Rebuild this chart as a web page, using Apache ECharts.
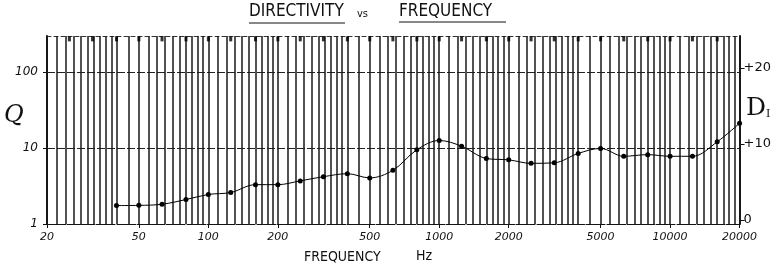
<!DOCTYPE html>
<html>
<head>
<meta charset="utf-8">
<script src="https://cdn.jsdelivr.net/npm/echarts@6/dist/echarts.min.js"></script>
<style>
  html, body { margin: 0; padding: 0; background: #fff; }
  #chart { width: 774px; height: 269px; }
</style>
</head>
<body>
<div id="chart"></div>
<script>
const freqs = [40, 50, 63, 80, 100, 125, 160, 200, 250, 315, 400, 500, 630, 800,
  1000, 1250, 1600, 2000, 2500, 3150, 4000, 5000, 6300, 8000, 10000, 12500, 16000, 20000]
const qValues = [1.75, 1.76, 1.82, 2.1, 2.45, 2.6, 3.3, 3.3, 3.7, 4.2, 4.6, 4.05, 5.1, 9.5,
  12.6, 10.6, 7.3, 7.0, 6.3, 6.4, 8.5, 9.9, 7.8, 8.2, 7.8, 7.8, 12.1, 21.3]

// small marks along the top of the paper
const bandMarks = [25, 31.5, 40, 50, 63, 80, 100, 125, 160, 200, 250, 315, 400, 500, 630, 800,
  1000, 1250, 1600, 2000, 2500, 3150, 4000, 5000, 6300, 8000, 10000, 12500, 16000]

const freqLabels = [20, 50, 100, 200, 500, 1000, 2000, 5000, 10000, 20000]
const qTicks = [1, 10, 100]
const diLabels = { 1: '0', 10: '+10', 100: '+20' }

// graph paper rulings: 2d..4d by 0.2d, 4d..10d by 0.5d, 10d..20d by d
const paperLines = (() => {
  const out = []
  ;[10, 100, 1000].forEach((d) => {
    for (let i = 0; i < 10; i++) out.push(+(2 * d + i * 0.2 * d).toFixed(3))
    for (let i = 0; i < 12; i++) out.push(4 * d + i * 0.5 * d)
    for (let i = 0; i < 10; i++) out.push(10 * d + i * d)
  })
  out.push(20000)
  return out
})()

const ink = '#111'
const hand = "'Liberation Sans Narrow', 'DejaVu Sans Condensed', 'DejaVu Sans', sans-serif"

const chart = echarts.init(document.getElementById('chart'), null, { renderer: 'canvas' })

const option = {
  animation: false,
  backgroundColor: '#fff',
  grid: { left: 47, right: 31, top: 36, bottom: 45 },
  graphic: [
    { type: 'text', left: 249, top: 3, style: { text: 'DIRECTIVITY', font: `17px ${hand}`, fill: ink } },
    { type: 'text', left: 357, top: 9, style: { text: 'vs', font: `11px ${hand}`, fill: ink } },
    { type: 'text', left: 399, top: 3, style: { text: 'FREQUENCY', font: `17px ${hand}`, fill: ink } },
    { type: 'line', shape: { x1: 249, y1: 23, x2: 345, y2: 23 }, style: { stroke: ink, lineWidth: 1 } },
    { type: 'line', shape: { x1: 399, y1: 22, x2: 506, y2: 22 }, style: { stroke: ink, lineWidth: 1 } },
    { type: 'text', left: 4, top: 104, style: { text: 'Q', font: `italic 24px 'DejaVu Serif', serif`, fill: ink } },
    {
      type: 'text', left: 746, top: 96,
      style: {
        text: '{d|D}{i|I}',
        rich: {
          d: { font: `25px 'DejaVu Serif', serif`, fill: ink },
          i: { font: `11px 'DejaVu Serif', serif`, fill: ink, padding: [12, 0, 0, 0] },
        },
      },
    },
    { type: 'text', left: 304, top: 250, style: { text: 'FREQUENCY', font: `14px ${hand}`, fill: ink } },
    { type: 'text', left: 416, top: 249, style: { text: 'Hz', font: `14px ${hand}`, fill: ink } },
  ],
  xAxis: [
    {
      type: 'log',
      min: 20,
      max: 20000,
      axisLine: { show: true, lineStyle: { color: ink, width: 1, type: [5, 2] } },
      axisTick: { show: true, customValues: freqLabels, length: 4, lineStyle: { color: ink } },
      axisLabel: {
        customValues: freqLabels,
        margin: 8,
        color: ink,
        fontFamily: 'DejaVu Sans',
        fontStyle: 'italic',
        fontSize: 11,
        formatter: (v) => String(Math.round(v)),
      },
      splitLine: { show: false },
    },
    {
      type: 'log',
      position: 'top',
      min: 20,
      max: 20000,
      axisLine: { show: true, lineStyle: { color: '#333', width: 1, type: [4, 3] } },
      axisTick: {
        show: true,
        inside: true,
        length: 188,
        customValues: paperLines,
        lineStyle: { color: '#1a1a1a', width: 1.5 },
      },
      axisLabel: { show: false },
      splitLine: { show: false },
    },
  ],
  yAxis: [
    {
      type: 'log',
      min: 1,
      max: 300,
      axisLine: { show: true, lineStyle: { color: ink, width: 2 } },
      axisTick: { show: true, customValues: qTicks, length: 4, lineStyle: { color: ink } },
      axisLabel: {
        customValues: qTicks,
        margin: 9,
        color: ink,
        fontFamily: 'DejaVu Sans',
        fontStyle: 'italic',
        fontSize: 12,
        formatter: (v) => String(Math.round(v)),
      },
      splitLine: { show: true, lineStyle: { color: '#222', width: 1, type: [8, 2] } },
    },
    {
      type: 'log',
      position: 'right',
      min: 0.886,
      max: 263,
      axisLine: { show: true, lineStyle: { color: ink, width: 2 } },
      axisTick: { show: true, customValues: qTicks, length: 5, lineStyle: { color: ink } },
      axisLabel: {
        customValues: qTicks,
        margin: 4,
        color: ink,
        fontFamily: 'DejaVu Sans',
        fontSize: 13,
        formatter: (v) => diLabels[Math.round(v)] || '',
      },
      splitLine: { show: false },
    },
  ],
  series: [
    {
      name: 'Q',
      type: 'line',
      data: freqs.map((f, i) => [f, qValues[i]]),
      smooth: 0.35,
      symbol: 'circle',
      symbolSize: 5,
      itemStyle: { color: '#000' },
      lineStyle: { color: '#000', width: 1 },
      z: 5,
    },
    {
      name: 'bands',
      type: 'scatter',
      data: bandMarks.map((f) => [f, 275]),
      symbol: 'rect',
      symbolSize: [3, 5],
      itemStyle: { color: '#000' },
      silent: true,
      z: 4,
    },
  ],
}

chart.setOption(option)
</script>
</body>
</html>
